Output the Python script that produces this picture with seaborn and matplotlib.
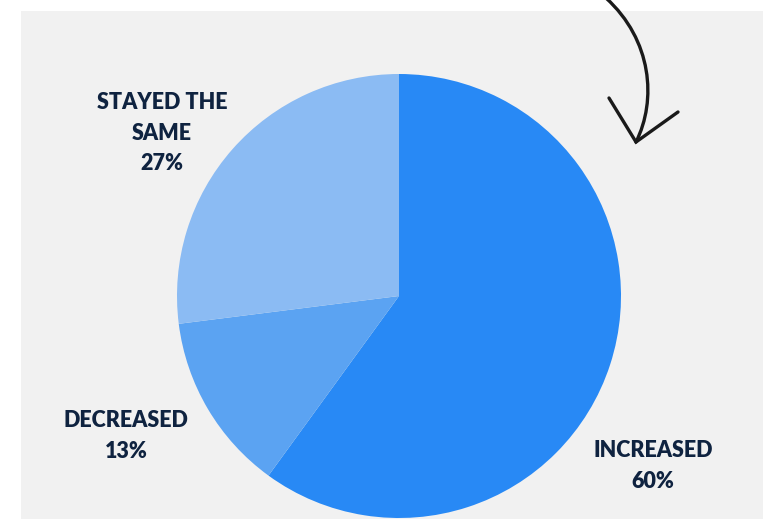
import matplotlib
matplotlib.use("Agg")
import matplotlib.pyplot as plt
from matplotlib.patches import Rectangle, PathPatch
from matplotlib.path import Path
import seaborn as sns

# Survey result shares
categories = ["INCREASED", "DECREASED", "STAYED THE\nSAME"]
shares = [60, 13, 27]
colors = ["#2889F5", "#5BA3F2", "#8BBBF3"]

sns.set_theme(style="white")
plt.rcParams["font.family"] = ["Lato", "DejaVu Sans"]

W, H = 763, 521
fig = plt.figure(figsize=(W / 100, H / 100), dpi=100, facecolor="white")

# light gray panel behind the chart
fig.patches.append(Rectangle((21 / W, 2 / H), (W - 21) / W, (519 - 11) / H,
                             transform=fig.transFigure, facecolor="#F1F1F1",
                             edgecolor="none", zorder=-10))

# pie axes: centre (399, 296), radius 222 px
cx, cy, r = 399, 296, 222
ax = fig.add_axes([(cx - r) / W, (H - cy - r) / H, 2 * r / W, 2 * r / H])
ax.set_facecolor("none")
wedges, _ = ax.pie(shares, colors=colors, startangle=90, counterclock=False,
                   radius=1, wedgeprops=dict(linewidth=0))
ax.set_xlim(-1, 1)
ax.set_ylim(-1, 1)
ax.set_aspect("equal")
ax.axis("off")

# overlay axes in pixel space for labels and the arrow
ov = fig.add_axes([0, 0, 1, 1])
ov.set_xlim(0, W)
ov.set_ylim(H, 0)
ov.axis("off")
ov.set_facecolor("none")

label_pos = [(653, 466), (126, 436), (162, 133)]
for name, val, (x, y) in zip(categories, shares, label_pos):
    ov.text(x, y, f"{name}\n{val}%", ha="center", va="center",
            fontsize=15.5, fontweight="heavy", color="#0F2340", linespacing=1.57)

# hand-drawn style arrow pointing at the largest slice
curve = Path([(606, -2), (652, 40), (657, 100), (636, 142)],
             [Path.MOVETO, Path.CURVE4, Path.CURVE4, Path.CURVE4])
ov.add_patch(PathPatch(curve, facecolor="none", edgecolor="#1A1A1A",
                       linewidth=2.4, capstyle="round"))
ov.plot([609, 636, 678], [98, 142, 112], color="#1A1A1A", linewidth=2.4,
        solid_capstyle="round", solid_joinstyle="miter")

fig.savefig("out.png", dpi=100, facecolor="white")
